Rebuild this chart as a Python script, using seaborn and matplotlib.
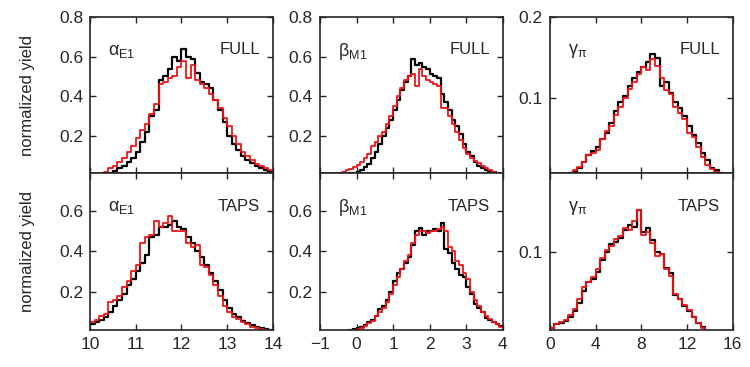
import matplotlib
matplotlib.use("Agg")
import matplotlib.pyplot as plt
import seaborn as sns
import pandas as pd
import numpy as np

# bin layout of each parameter (left edge, right edge, number of bins)
alpha_bins = (10.0, 14.0, 40)
beta_bins = (-1.0, 4.0, 50)
gamma_bins = (0.0, 16.0, 40)

# alpha_E1, FULL
alpha_full_black = [0.0, 0.0, 0.005, 0.008, 0.015, 0.025, 0.04, 0.05, 0.07, 0.09,
                    0.12, 0.17, 0.22, 0.3, 0.33, 0.48, 0.5, 0.54, 0.6, 0.58,
                    0.64, 0.6, 0.59, 0.52, 0.47, 0.46, 0.44, 0.38, 0.33, 0.27,
                    0.2, 0.16, 0.13, 0.1, 0.08, 0.065, 0.05, 0.04, 0.03, 0.02]
alpha_full_red = [0.0, 0.005, 0.01, 0.02, 0.04, 0.05, 0.07, 0.09, 0.12, 0.15,
                  0.19, 0.23, 0.26, 0.31, 0.36, 0.46, 0.47, 0.49, 0.5, 0.55,
                  0.58, 0.49, 0.56, 0.48, 0.46, 0.44, 0.41, 0.38, 0.34, 0.29,
                  0.25, 0.2, 0.16, 0.12, 0.1, 0.08, 0.06, 0.05, 0.04, 0.03]
# alpha_E1, TAPS
alpha_taps_black = [0.04, 0.05, 0.06, 0.075, 0.1, 0.13, 0.16, 0.19, 0.23, 0.26,
                    0.3, 0.34, 0.38, 0.47, 0.48, 0.52, 0.52, 0.53, 0.55, 0.52,
                    0.51, 0.47, 0.44, 0.4, 0.37, 0.33, 0.29, 0.25, 0.21, 0.16,
                    0.12, 0.09, 0.075, 0.055, 0.045, 0.033, 0.025, 0.017, 0.012, 0.008]
alpha_taps_red = [0.05, 0.06, 0.08, 0.09, 0.15, 0.16, 0.18, 0.22, 0.25, 0.3,
                  0.33, 0.44, 0.47, 0.48, 0.55, 0.52, 0.54, 0.575, 0.5, 0.5,
                  0.5, 0.44, 0.42, 0.43, 0.33, 0.32, 0.28, 0.23, 0.18, 0.13,
                  0.1, 0.075, 0.065, 0.05, 0.04, 0.025, 0.02, 0.015, 0.01, 0.005]

# beta_M1, FULL
beta_full_black = [0, 0, 0, 0, 0, 0.003, 0.005, 0.008, 0.012, 0.015,
                   0.02, 0.03, 0.045, 0.06, 0.09, 0.12, 0.16, 0.2, 0.24, 0.28,
                   0.33, 0.38, 0.43, 0.47, 0.5, 0.59, 0.56, 0.57, 0.55, 0.54,
                   0.51, 0.5, 0.49, 0.41, 0.37, 0.33, 0.28, 0.25, 0.21, 0.16,
                   0.12, 0.1, 0.07, 0.05, 0.04, 0.03, 0.025, 0.018, 0.01, 0.0]
beta_full_red = [0, 0, 0, 0.005, 0.008, 0.012, 0.02, 0.03, 0.035, 0.045,
                 0.055, 0.07, 0.09, 0.11, 0.15, 0.17, 0.2, 0.22, 0.26, 0.3,
                 0.35, 0.4, 0.44, 0.48, 0.5, 0.51, 0.45, 0.54, 0.5, 0.48,
                 0.47, 0.46, 0.45, 0.34, 0.34, 0.3, 0.26, 0.22, 0.18, 0.14,
                 0.11, 0.09, 0.075, 0.065, 0.05, 0.04, 0.03, 0.02, 0.01, 0.0]
# beta_M1, TAPS
beta_taps_black = [0, 0, 0, 0, 0, 0, 0, 0.005, 0.008, 0.012,
                   0.017, 0.025, 0.035, 0.05, 0.06, 0.08, 0.115, 0.13, 0.16, 0.2,
                   0.25, 0.29, 0.31, 0.34, 0.37, 0.43, 0.5, 0.515, 0.48, 0.5,
                   0.5, 0.51, 0.5, 0.54, 0.41, 0.39, 0.34, 0.31, 0.28, 0.27,
                   0.22, 0.19, 0.14, 0.12, 0.1, 0.07, 0.06, 0.05, 0.04, 0.03]
beta_taps_red = [0, 0, 0, 0, 0, 0, 0, 0, 0.005, 0.01,
                 0.015, 0.02, 0.03, 0.045, 0.055, 0.08, 0.1, 0.12, 0.15, 0.19,
                 0.23, 0.27, 0.31, 0.35, 0.38, 0.44, 0.48, 0.5, 0.5, 0.49,
                 0.5, 0.5, 0.51, 0.52, 0.5, 0.42, 0.4, 0.35, 0.33, 0.29,
                 0.26, 0.2, 0.16, 0.13, 0.1, 0.08, 0.065, 0.05, 0.04, 0.025]

# gamma_pi, FULL
gamma_full_black = [0, 0, 0, 0, 0.008, 0.01, 0.015, 0.022, 0.03, 0.036,
                    0.041, 0.05, 0.058, 0.07, 0.085, 0.095, 0.103, 0.115, 0.125, 0.133,
                    0.138, 0.145, 0.155, 0.15, 0.115, 0.12, 0.107, 0.095, 0.088, 0.078,
                    0.066, 0.055, 0.045, 0.033, 0.024, 0.015, 0.012, 0.008, 0, 0]
gamma_full_red = [0, 0, 0, 0, 0.006, 0.012, 0.016, 0.022, 0.03, 0.033,
                  0.037, 0.05, 0.06, 0.066, 0.08, 0.09, 0.1, 0.112, 0.12, 0.13,
                  0.138, 0.135, 0.148, 0.14, 0.125, 0.11, 0.105, 0.09, 0.082, 0.075,
                  0.058, 0.053, 0.04, 0.028, 0.018, 0.014, 0.01, 0.008, 0.008, 0]
# gamma_pi, TAPS
gamma_taps_black = [0.004, 0.008, 0.01, 0.012, 0.018, 0.025, 0.035, 0.05, 0.062, 0.066,
                    0.075, 0.09, 0.1, 0.11, 0.113, 0.118, 0.128, 0.135, 0.132, 0.153,
                    0.125, 0.13, 0.115, 0.1, 0.097, 0.08, 0.073, 0.045, 0.04, 0.032,
                    0.025, 0.017, 0.01, 0.005, 0, 0, 0, 0, 0, 0]
gamma_taps_red = [0.004, 0.008, 0.011, 0.014, 0.02, 0.028, 0.04, 0.055, 0.062, 0.068,
                  0.078, 0.092, 0.102, 0.108, 0.116, 0.12, 0.13, 0.128, 0.14, 0.153,
                  0.122, 0.125, 0.112, 0.095, 0.098, 0.078, 0.07, 0.047, 0.04, 0.033,
                  0.026, 0.018, 0.01, 0.004, 0, 0, 0, 0, 0, 0]

row_tags = ["FULL", "TAPS"]
param_labels = ["α$_{\\rm E1}$", "β$_{\\rm M1}$", "γ$_{\\rm π}$"]
x_limits = [(10, 14), (-1, 4), (0, 16)]
x_ticks = [[10, 11, 12, 13, 14], [-1, 0, 1, 2, 3, 4], [0, 4, 8, 12, 16]]
y_limits = [[(0.012, 0.8), (0.008, 0.79)],
            [(0.012, 0.8), (0.008, 0.79)],
            [(0.008, 0.2), (0.001, 0.2)]]
y_ticks = [[[0.2, 0.4, 0.6, 0.8], [0.2, 0.4, 0.6]],
           [[0.2, 0.4, 0.6, 0.8], [0.2, 0.4, 0.6]],
           [[0.1, 0.2], [0.1]]]

sns.set_style("ticks")
plt.rcParams["font.family"] = ["Liberation Sans", "DejaVu Sans"]
plt.rcParams["mathtext.fontset"] = "custom"
plt.rcParams["mathtext.rm"] = "Liberation Sans"
plt.rcParams["mathtext.it"] = "Liberation Sans:italic"

data = [[(alpha_full_black, alpha_full_red), (alpha_taps_black, alpha_taps_red)],
        [(beta_full_black, beta_full_red), (beta_taps_black, beta_taps_red)],
        [(gamma_full_black, gamma_full_red), (gamma_taps_black, gamma_taps_red)]]
bin_defs = [alpha_bins, beta_bins, gamma_bins]


def step_hist(ax, values, binning, color, lw):
    lo, hi, n = binning
    width = (hi - lo) / n
    df = pd.DataFrame({"x": lo + width * (np.arange(n) + 0.5), "w": values})
    sns.histplot(data=df, x="x", weights="w", bins=n, binrange=(lo, hi),
                 element="step", fill=False, color=color, linewidth=lw, ax=ax)


fig, axes = plt.subplots(2, 3, figsize=(7.5, 3.67), dpi=100)
fig.subplots_adjust(left=0.12, right=0.977, top=0.954, bottom=0.101,
                    wspace=0.257, hspace=0.0)

for c in range(3):
    for r in range(2):
        ax = axes[r, c]
        black, red = data[c][r]
        step_hist(ax, black, bin_defs[c], "black", 1.6)
        step_hist(ax, red, bin_defs[c], "#f01515", 1.3)
        ax.set_xlim(*x_limits[c])
        ax.set_ylim(*y_limits[c][r])
        ax.set_xticks(x_ticks[c])
        ax.set_yticks(y_ticks[c][r])
        ax.set_yticklabels([f"{v:g}" for v in y_ticks[c][r]])
        ax.tick_params(direction="in", top=True, right=True, length=4,
                       width=1.0, labelsize=12.5, pad=5)
        if r == 0:
            ax.tick_params(labelbottom=False)
        for s in ax.spines.values():
            s.set_linewidth(1.2)
        ax.set_xlabel("")
        ax.set_ylabel("")
        ax.text(0.1, 0.78, param_labels[c], transform=ax.transAxes,
                fontsize=13, ha="left", va="center")
        ax.text(0.93, 0.79, row_tags[r], transform=ax.transAxes,
                fontsize=12, ha="right", va="center")

for r in range(2):
    axes[r, 0].set_ylabel("normalized yield", fontsize=12)
    axes[r, 0].yaxis.set_label_coords(-0.30, 0.5)

fig.savefig("out.png", dpi=100)
